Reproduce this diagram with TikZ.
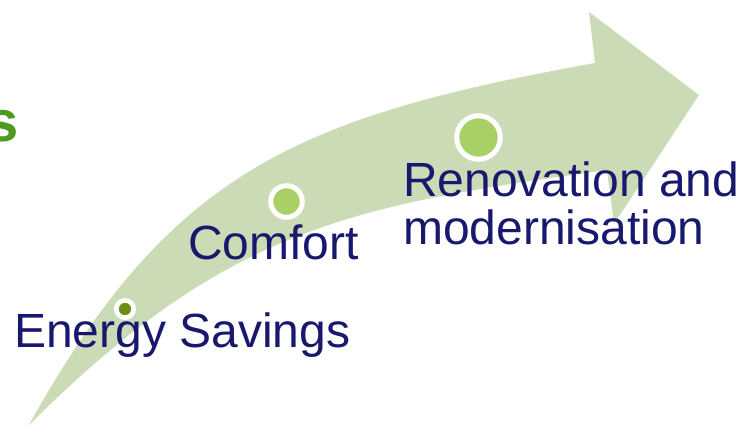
\documentclass[tikz,border=0pt]{standalone}
\usepackage{fontspec}
\setmainfont{Liberation Sans}
\definecolor{arrowgreen}{RGB}{203,219,181}
\definecolor{dotgreen}{RGB}{169,208,102}
\definecolor{dotolive}{RGB}{107,142,18}
\definecolor{labelnavy}{RGB}{24,24,110}
\definecolor{titlegreen}{RGB}{78,154,32}
\begin{document}
\begin{tikzpicture}[x=1pt,y=-1pt,
  milestone/.style={circle, fill=#1, draw=white, inner sep=0pt},
  stagetext/.style={anchor=base west, inner sep=0pt, text=labelnavy,
    font=\fontsize{48}{48}\selectfont, align=left}]
  \clip (0,0) rectangle (742,427);

  % curved progress arrow
  \fill[arrowgreen] (29,425) .. controls (229,225) and (357,205) .. (607,170)
    -- (614,224) -- (699,95) -- (589,12) -- (595,63)
    .. controls (295,117) and (169,173) .. cycle;

  % milestones along the arrow
  \node[milestone=dotolive, minimum size=17.3pt, line width=4.7pt] (dot1) at (125,309) {};
  \node[milestone=dotgreen, minimum size=31.6pt, line width=5pt] (dot2) at (286.5,201.5) {};
  \node[milestone=dotgreen, minimum size=43.5pt, line width=5pt] (dot3) at (478.5,137.5) {};

  % stage labels (a two-line node sits on its last baseline)
  \node[stagetext] (savings) at (14,348) {Energy Savings};
  \node[stagetext] (comfort) at (188,260) {Comfort};
  \node[stagetext] (renov) at (403,245) {Renovation and\\modernisation};

  % end of the heading word
  \node[anchor=base east, inner sep=0pt, text=titlegreen,
    font=\fontsize{58}{60}\selectfont\bfseries] (heading) at (19,142) {s};
\end{tikzpicture}
\end{document}
